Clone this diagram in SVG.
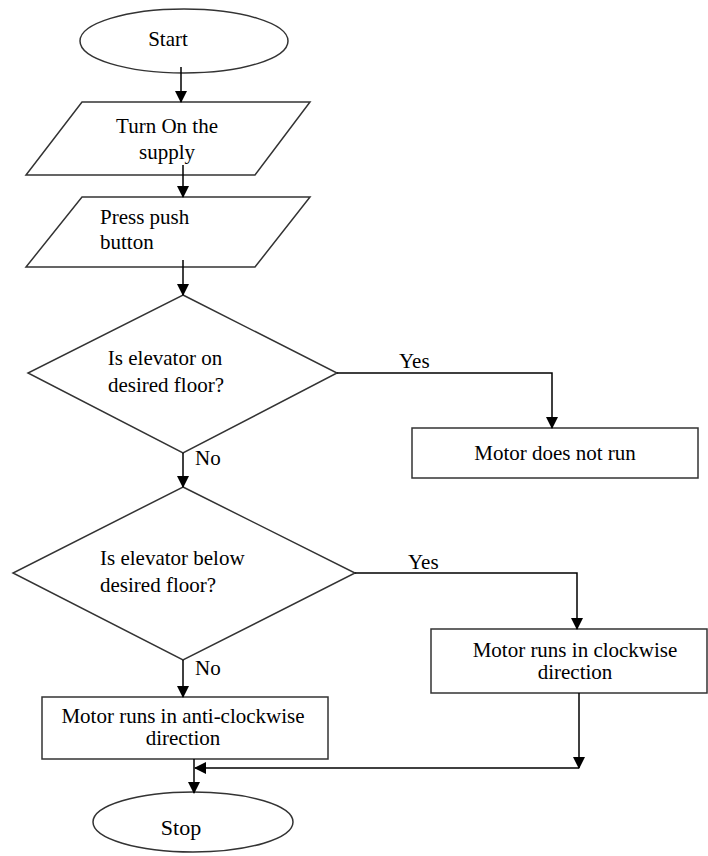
<svg xmlns="http://www.w3.org/2000/svg" width="708" height="856" viewBox="0 0 708 856">
<defs>
<marker id="ah" markerWidth="12" markerHeight="12" refX="11" refY="6" orient="auto" markerUnits="userSpaceOnUse">
<path d="M0,0 L12,6 L0,12 Z" fill="#000"/>
</marker>
<style>
.s{fill:#fff;stroke:#333;stroke-width:1.5}
.t{font-family:"Liberation Serif","Times New Roman",serif;font-size:21px;fill:#000}
.c{stroke:#000;stroke-width:1.5;fill:none;marker-end:url(#ah)}
</style>
</defs>
<rect width="708" height="856" fill="#fff"/>
<g id="start">
<ellipse class="s" cx="184" cy="41" rx="104" ry="32"/>
<text class="t" x="168" y="46" text-anchor="middle">Start</text>
</g>
<g id="supply">
<polygon class="s" points="82,102 310,102 255,175 26,175"/>
<text class="t" x="167" y="133" text-anchor="middle">Turn On the</text>
<text class="t" x="167" y="159" text-anchor="middle">supply</text>
</g>
<g id="push">
<polygon class="s" points="82,197 310,197 255,267 26,267"/>
<text class="t" x="100" y="224">Press push</text>
<text class="t" x="100" y="249">button</text>
</g>
<g id="dec1">
<polygon class="s" points="183,295 337,373 183,453 28,373"/>
<text class="t" x="165" y="365" text-anchor="middle">Is elevator on</text>
<text class="t" x="166" y="392" text-anchor="middle">desired floor?</text>
</g>
<g id="notrun">
<rect class="s" x="412" y="428" width="286" height="50"/>
<text class="t" x="555" y="460" text-anchor="middle">Motor does not run</text>
</g>
<g id="dec2">
<polygon class="s" points="183,487 355,573 183,660 13,573"/>
<text class="t" x="100" y="565">Is elevator below</text>
<text class="t" x="100" y="592">desired floor?</text>
</g>
<g id="cw">
<rect class="s" x="431" y="629" width="276" height="64"/>
<text class="t" x="575" y="657" text-anchor="middle">Motor runs in clockwise</text>
<text class="t" x="575" y="679" text-anchor="middle">direction</text>
</g>
<g id="acw">
<rect class="s" x="42" y="697" width="286" height="62"/>
<text class="t" x="183" y="723" text-anchor="middle">Motor runs in anti-clockwise</text>
<text class="t" x="183" y="745" text-anchor="middle">direction</text>
</g>
<g id="stop">
<ellipse class="s" cx="193" cy="822" rx="100" ry="30"/>
<text class="t" x="181" y="835" text-anchor="middle" style="font-size:22px">Stop</text>
</g>
<g id="connectors">
<path class="c" d="M181,67 V102"/>
<path class="c" d="M183,165 V197"/>
<path class="c" d="M183,260 V295"/>
<path class="c" d="M183,453 V487"/>
<path class="c" d="M337,373 H552 V428"/>
<path class="c" d="M183,660 V697"/>
<path class="c" d="M355,573 H577 V629"/>
<path class="c" d="M579,693 V768"/>
<path class="c" d="M579,768 H195"/>
<path class="c" d="M194,759 V793"/>
<text class="t" x="195" y="465">No</text>
<text class="t" x="399" y="368">Yes</text>
<text class="t" x="195" y="675">No</text>
<text class="t" x="408" y="569">Yes</text>
</g>
</svg>
